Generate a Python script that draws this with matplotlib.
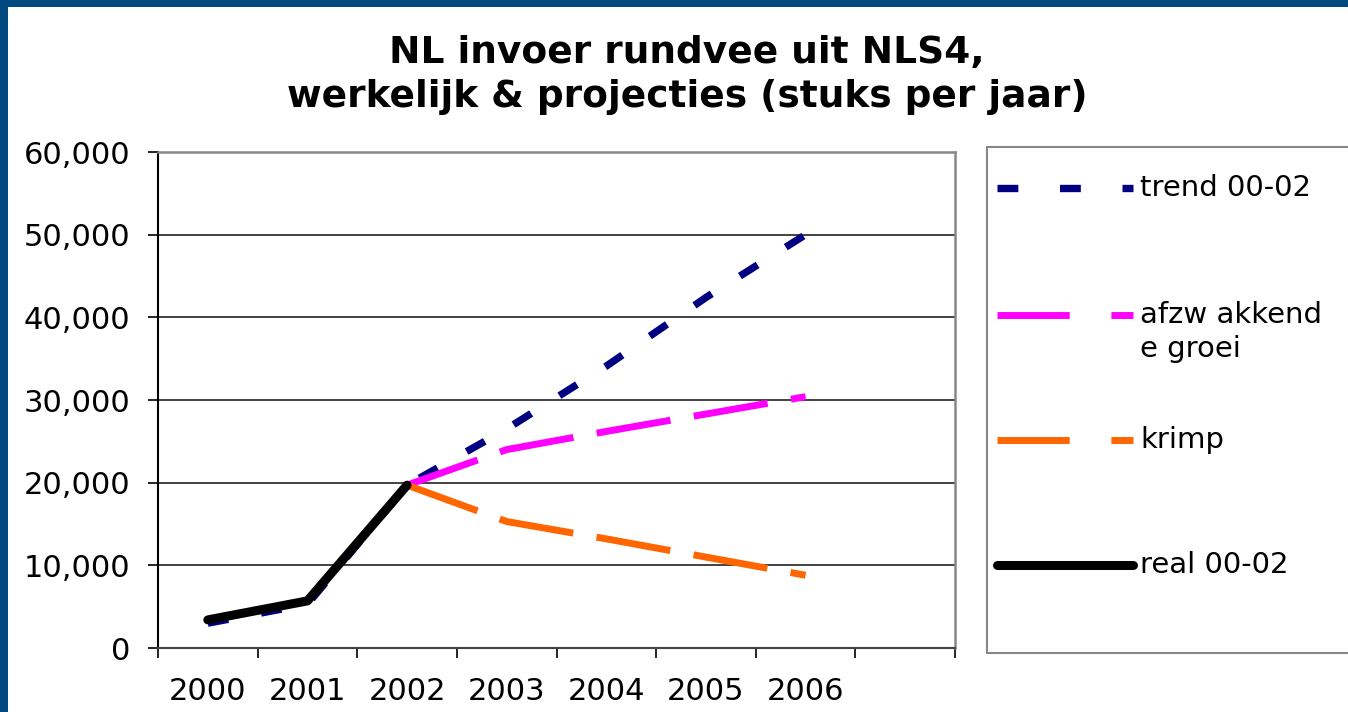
import numpy as np
import matplotlib
matplotlib.use('Agg')
import matplotlib.pyplot as plt
from matplotlib.lines import Line2D
from matplotlib.patches import Rectangle

# categories (last slot is empty in the original chart)
years = ['2000', '2001', '2002', '2003', '2004', '2005', '2006', '']

# values (stuks per jaar)
trend = [3000, 5300, 19700, 26500, 34100, 42400, 50000]
afzwakkend = [np.nan, np.nan, 19700, 24000, 26200, 28300, 30400]
krimp = [np.nan, np.nan, 19700, 15300, 13200, 11000, 8800]
real = [3400, 5700, 19700]

labels = ['trend 00-02', 'afzw akkend\ne groei', 'krimp', 'real 00-02']
colors = ['#000080', '#ff00ff', '#ff6600', '#000000']

plt.rcParams['font.family'] = ['DejaVu Sans']
plt.rcParams['lines.scale_dashes'] = False

W, H = 1348, 712
fig = plt.figure(figsize=(W / 100, H / 100), dpi=100)
fig.patch.set_facecolor('#00497e')
fig.patches.append(Rectangle((8 / W, 0), 1, 1 - 7 / H, transform=fig.transFigure,
                             facecolor='white', edgecolor='none', zorder=-5))

ax = fig.add_axes([158 / W, 1 - 648 / H, (955 - 158) / W, (648 - 152) / H])
ax.set_facecolor('white')

x = np.arange(len(years))
ax.plot(x[:len(trend)], trend, color=colors[0], lw=5.3, dashes=(15, 24),
        dash_capstyle='butt', zorder=3)
ax.plot(x[:len(afzwakkend)], afzwakkend, color=colors[1], lw=5, dashes=(54, 17),
        dash_capstyle='butt', zorder=3)
ax.plot(x[:len(krimp)], krimp, color=colors[2], lw=5, dashes=(54, 17),
        dash_capstyle='butt', zorder=3)
ax.plot(x[:len(real)], real, color=colors[3], lw=6.5, solid_capstyle='round',
        solid_joinstyle='round', zorder=4)

ax.set_xlim(-0.5, len(years) - 0.5)
ax.set_ylim(0, 60000)
ax.set_yticks(np.arange(0, 60001, 10000))
ax.set_yticklabels([f'{v:,}' for v in range(0, 60001, 10000)])
ax.set_xticks(x)
ax.set_xticklabels(years)
ax.set_xticks(np.arange(-0.5, len(years)), minor=True)

ax.tick_params(axis='y', direction='out', length=7, width=1.2, pad=13, labelsize=22)
ax.tick_params(axis='x', which='major', length=0, pad=21, labelsize=22)
ax.tick_params(axis='x', which='minor', direction='out', length=7, width=1.2)

for v in range(10000, 60000, 10000):
    ax.axhline(v, color='#222222', lw=1.2, zorder=1)

ax.spines['left'].set_color('black')
ax.spines['left'].set_linewidth(1.5)
ax.spines['bottom'].set_color('#444444')
ax.spines['bottom'].set_linewidth(1.5)
for s in ['top', 'right']:
    ax.spines[s].set_color('#888888')
    ax.spines[s].set_linewidth(1.8)

fig.text(687 / W, 1 - 75 / H, 'NL invoer rundvee uit NLS4,\nwerkelijk & projecties (stuks per jaar)',
         ha='center', va='center', fontsize=27, fontweight='bold', linespacing=1.3)

# legend box drawn by hand to follow the original layout
fig.patches.append(Rectangle((987 / W, 1 - 653 / H), 0.3, (653 - 147) / H,
                             transform=fig.transFigure, facecolor='white',
                             edgecolor='#888888', lw=1.5, zorder=1))
leg_y = [188, 315, 440, 565]
leg_dashes = [(15, 30), (52, 30), (52, 30), None]
leg_lw = [5.3, 5, 5, 6.5]
for lab, col, yy, dsh, lw in zip(labels, colors, leg_y, leg_dashes, leg_lw):
    ln = Line2D([997 / W, 1133 / W], [1 - yy / H, 1 - yy / H], transform=fig.transFigure,
                color=col, lw=lw, solid_capstyle='round', dash_capstyle='butt', zorder=2)
    if dsh:
        ln.set_dashes(dsh)
    fig.lines.append(ln)
    fig.text(1140 / W, 1 - yy / H + 0.019, lab, ha='left', va='top', fontsize=21,
             linespacing=1.25, zorder=3)

fig.savefig('out.png', dpi=100)
